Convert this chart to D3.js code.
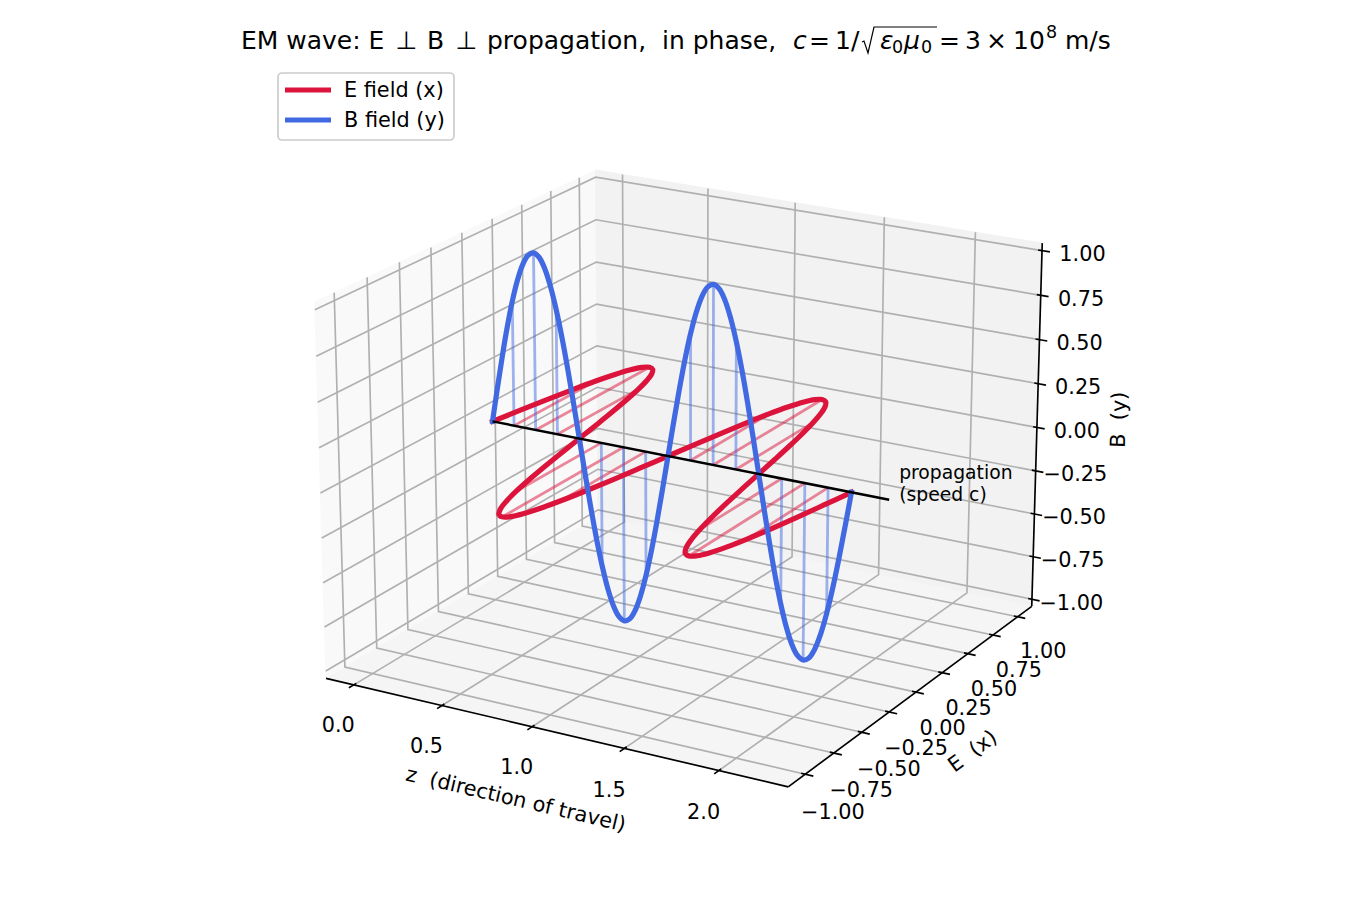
<!DOCTYPE html>
<html><head><meta charset="utf-8">
<style>
html,body{margin:0;padding:0;background:#fff}
svg{display:block}
text{font-family:"DejaVu Sans",sans-serif;fill:#000;white-space:pre}
</style>
<script src="https://cdn.jsdelivr.net/npm/d3@7"></script>
</head><body>
<svg id="chart" width="1350" height="900"></svg>
<script>
// Field samples along the direction of travel
const travel = [0,0.03125,0.0625,0.09375,0.125,0.15625,0.1875,0.21875,0.25,0.28125,0.3125,0.34375,0.375,0.40625,0.4375,0.46875,
  0.5,0.53125,0.5625,0.59375,0.625,0.65625,0.6875,0.71875,0.75,0.78125,0.8125,0.84375,0.875,0.90625,0.9375,0.96875,
  1,1.03125,1.0625,1.09375,1.125,1.15625,1.1875,1.21875,1.25,1.28125,1.3125,1.34375,1.375,1.40625,1.4375,1.46875,
  1.5,1.53125,1.5625,1.59375,1.625,1.65625,1.6875,1.71875,1.75,1.78125,1.8125,1.84375,1.875,1.90625,1.9375,1.96875,2];
const eField = [0,0.195,0.383,0.556,0.707,0.831,0.924,0.981,1,0.981,0.924,0.831,0.707,0.556,0.383,0.195,
  0,-0.195,-0.383,-0.556,-0.707,-0.831,-0.924,-0.981,-1,-0.981,-0.924,-0.831,-0.707,-0.556,-0.383,-0.195,
  0,0.195,0.383,0.556,0.707,0.831,0.924,0.981,1,0.981,0.924,0.831,0.707,0.556,0.383,0.195,
  0,-0.195,-0.383,-0.556,-0.707,-0.831,-0.924,-0.981,-1,-0.981,-0.924,-0.831,-0.707,-0.556,-0.383,-0.195,0];
const bField = [0,0.195,0.383,0.556,0.707,0.831,0.924,0.981,1,0.981,0.924,0.831,0.707,0.556,0.383,0.195,
  0,-0.195,-0.383,-0.556,-0.707,-0.831,-0.924,-0.981,-1,-0.981,-0.924,-0.831,-0.707,-0.556,-0.383,-0.195,
  0,0.195,0.383,0.556,0.707,0.831,0.924,0.981,1,0.981,0.924,0.831,0.707,0.556,0.383,0.195,
  0,-0.195,-0.383,-0.556,-0.707,-0.831,-0.924,-0.981,-1,-0.981,-0.924,-0.831,-0.707,-0.556,-0.383,-0.195,0];
// Drop lines from the axis of travel to each field curve
const stemTravel = [0.125,0.25,0.375,0.625,0.75,0.875,1.125,1.25,1.375,1.625,1.75,1.875];
const stemField  = [0.707,1,0.707,-0.707,-1,-0.707,0.707,1,0.707,-0.707,-1,-0.707];
const propagationEnd = 2.2;

const zTicks = [0,0.5,1,1.5,2];
const zTickLabels = ["0.0","0.5","1.0","1.5","2.0"];
const fieldTicks = [-1,-0.75,-0.5,-0.25,0,0.25,0.5,0.75,1];
const fieldTickLabels = ["\u22121.00","\u22120.75","\u22120.50","\u22120.25","0.00","0.25","0.50","0.75","1.00"];
const legendLabels = ["E field (x)","B field (y)"];

const colE = "#dc143c", colB = "#4169e1", colGrid = "#b0b0b0";
const svg = d3.select("#chart");

// Perspective camera: elevation 20 deg, azimuth -60 deg, eye at distance 10
const elev = 20*Math.PI/180, azim = -60*Math.PI/180, dist = 10;
const box = [1.1905,1.1905,0.8929];
const zLim = [-0.16,2.36], eLim = [-1.1458,1.1458], bLim = [-1.0417,1.0417];
const sx = d3.scaleLinear().domain(zLim).range([0,box[0]]);
const sy = d3.scaleLinear().domain(eLim).range([0,box[1]]);
const sz = d3.scaleLinear().domain(bLim).range([0,box[2]]);
const pxScale = 4404, cx = 686, cy = 459.6;
const n = [Math.cos(elev)*Math.cos(azim),Math.cos(elev)*Math.sin(azim),Math.sin(elev)];
const u = [-Math.sin(azim),Math.cos(azim),0];
const w = [-Math.sin(elev)*Math.cos(azim),-Math.sin(elev)*Math.sin(azim),Math.cos(elev)];
const dot = (a,b)=>a[0]*b[0]+a[1]*b[1]+a[2]*b[2];
function project(x,y,z){
  const v=[sx(x)-box[0]/2,sy(y)-box[1]/2,sz(z)-box[2]/2];
  const d=dist-dot(v,n);
  return [cx+pxScale*dot(v,u)/d, cy-pxScale*dot(v,w)/d];
}
const line = d3.line();
const smooth = d3.line().curve(d3.curveCatmullRom.alpha(0.5));
const [x0,x1]=zLim,[y0,y1]=eLim,[z0,z1]=bLim;

// Back panes
const panes = [
  {fill:"#f9f9f9",c:[[x0,y0,z0],[x0,y1,z0],[x0,y1,z1],[x0,y0,z1]]},
  {fill:"#f2f2f2",c:[[x0,y1,z0],[x1,y1,z0],[x1,y1,z1],[x0,y1,z1]]},
  {fill:"#f5f5f5",c:[[x0,y0,z0],[x1,y0,z0],[x1,y1,z0],[x0,y1,z0]]}
];
svg.append("g").selectAll("path").data(panes).join("path")
  .attr("d",d=>line(d.c.map(p=>project(...p)))+"Z")
  .attr("fill",d=>d.fill).attr("stroke",d=>d.fill).attr("stroke-width",1);

// Grid on the panes
const grid = svg.append("g").attr("fill","none").attr("stroke",colGrid).attr("stroke-width",1.67);
zTicks.forEach(t=>grid.append("path").attr("d",line([[t,y0,z0],[t,y1,z0],[t,y1,z1]].map(p=>project(...p)))));
fieldTicks.forEach(t=>grid.append("path").attr("d",line([[x1,t,z0],[x0,t,z0],[x0,t,z1]].map(p=>project(...p)))));
fieldTicks.forEach(t=>grid.append("path").attr("d",line([[x0,y0,t],[x0,y1,t],[x1,y1,t]].map(p=>project(...p)))));

// Axis lines and tick marks
const axes = svg.append("g").attr("fill","none").attr("stroke","#000").attr("stroke-width",1.67);
[[[x0,y0,z0],[x1,y0,z0]],[[x1,y0,z0],[x1,y1,z0]],[[x1,y1,z0],[x1,y1,z1]]].forEach(s=>
  axes.append("path").attr("d",line(s.map(p=>project(...p)))));
const dX=(x1-x0)/12, dE=(y1-y0)/12, dB=(z1-z0)/12;
zTicks.forEach(t=>axes.append("path").attr("d",line([[t,y0-0.2*dE,z0],[t,y0+0.1*dE,z0]].map(p=>project(...p)))));
fieldTicks.forEach(t=>axes.append("path").attr("d",line([[x1+0.2*dX,t,z0],[x1-0.1*dX,t,z0]].map(p=>project(...p)))));
fieldTicks.forEach(t=>axes.append("path").attr("d",line([[x1+0.2*dX,y1,t],[x1-0.1*dX,y1,t]].map(p=>project(...p)))));

// Tick labels, pushed outward from the box
const tickText = svg.append("g").attr("font-size",20.8).attr("text-anchor","middle");
const putTick=(p,s)=>tickText.append("text").attr("x",p[0]).attr("y",p[1]).attr("dy","0.36em").text(s);
zTicks.forEach((t,i)=>putTick(project(t,y0-0.66*dE,z0-0.96*dB),zTickLabels[i]));
fieldTicks.forEach((t,i)=>putTick(project(x1+0.69*dX,t,z0-0.96*dB),fieldTickLabels[i]));
fieldTicks.forEach((t,i)=>putTick(project(x1+0.83*dX,y1+0.42*dE,t-0.012),fieldTickLabels[i]));

// Axis titles run along their axes
function axisTitle(a,b,ox,oy,s){
  const pa=project(...a),pb=project(...b);
  let ang=Math.atan2(pb[1]-pa[1],pb[0]-pa[0])*180/Math.PI;
  if(ang>90)ang-=180; if(ang<-90)ang+=180;
  const mx=(pa[0]+pb[0])/2+ox,my=(pa[1]+pb[1])/2+oy;
  svg.append("text").attr("font-size",20.8).attr("text-anchor","middle").attr("dy","0.36em")
    .attr("transform",`translate(${mx},${my}) rotate(${ang})`).text(s);
}
axisTitle([x0,y0,z0],[x1,y0,z0],-41,66,"z  (direction of travel)");
axisTitle([x1,y0,z0],[x1,y1,z0],62,54,"E  (x)");
axisTitle([x1,y1,z0],[x1,y1,z1],81,-5,"B  (y)");

// Drop lines
const stems = svg.append("g").attr("fill","none").attr("stroke-width",2.8);
stemTravel.forEach((t,i)=>stems.append("path").attr("stroke",colE).attr("stroke-opacity",0.5)
  .attr("d",line([project(t,0,0),project(t,stemField[i],0)])));
stemTravel.forEach((t,i)=>stems.append("path").attr("stroke",colB).attr("stroke-opacity",0.5)
  .attr("d",line([project(t,0,0),project(t,0,stemField[i])])));

// Field curves and the propagation axis
svg.append("path").attr("fill","none").attr("stroke",colE).attr("stroke-width",5.2).attr("stroke-linecap","square")
  .attr("stroke-linejoin","round").attr("d",smooth(travel.map((t,i)=>project(t,eField[i],0))));
svg.append("path").attr("fill","none").attr("stroke",colB).attr("stroke-width",5.2).attr("stroke-linecap","square")
  .attr("stroke-linejoin","round").attr("d",smooth(travel.map((t,i)=>project(t,0,bField[i]))));
svg.append("path").attr("fill","none").attr("stroke","#000").attr("stroke-width",2.5)
  .attr("d",line([project(0,0,0),project(propagationEnd,0,0)]));

const note = project(propagationEnd,0,0);
const noteText = svg.append("text").attr("font-size",18.75);
noteText.append("tspan").attr("x",note[0]+10).attr("y",note[1]-21).text("propagation");
noteText.append("tspan").attr("x",note[0]+10).attr("y",note[1]+1).text("(speed c)");

// Legend
const legend = svg.append("g");
legend.append("rect").attr("x",278).attr("y",73).attr("width",176).attr("height",67).attr("rx",4)
  .attr("fill","#fff").attr("fill-opacity",0.8).attr("stroke","#cccccc").attr("stroke-width",1.67);
[colE,colB].forEach((c,i)=>{
  const y=90+i*30;
  legend.append("line").attr("x1",285).attr("x2",331).attr("y1",y).attr("y2",y).attr("stroke",c).attr("stroke-width",5.2);
  legend.append("text").attr("x",344).attr("y",y+7).attr("font-size",20.8).text(legendLabels[i]);
});

// Title with inline math
const title = svg.append("text").attr("y",49).attr("font-size",25);
const seg=(x,s,o={})=>{
  const t=title.append("tspan").attr("x",x).attr("y",49+(o.dy||0)).text(s);
  if(o.it)t.attr("font-style","italic");
  if(o.fs)t.attr("font-size",o.fs);
};
seg(241,"EM wave: E");
seg(395.5,"\u22a5");
seg(427,"B");
seg(455.5,"\u22a5");
seg(487,"propagation,  in phase,");
seg(793,"c",{it:1});
seg(809,"=");
seg(835,"1/");
seg(880,"\u03b5",{it:1});
seg(892,"0",{fs:17.5,dy:4});
seg(904,"\u03bc",{it:1});
seg(921,"0",{fs:17.5,dy:4});
seg(939,"=");
seg(965,"3");
seg(986,"\u00d7");
seg(1013,"10");
seg(1046,"8",{fs:17.5,dy:-11});
seg(1065,"m/s");
svg.append("path").attr("fill","none").attr("stroke","#000").attr("stroke-width",1.2)
  .attr("d","M862,42 L864,41 L868,53 L874,27 L937,27");
</script>
</body></html>
